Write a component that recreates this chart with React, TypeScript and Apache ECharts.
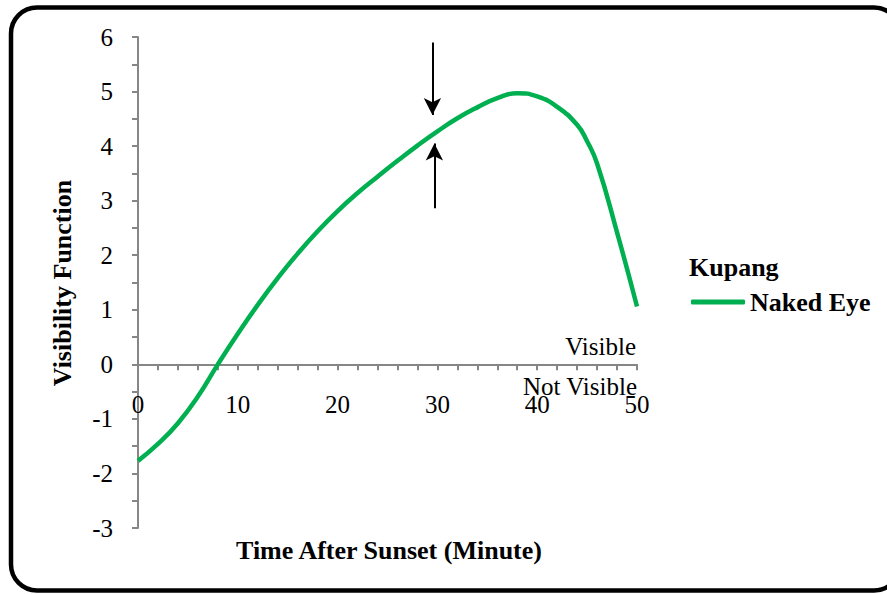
import React, { useEffect, useRef } from "react";
import * as echarts from "echarts";

// ---- data ----
const minutes = [0, 2, 4, 6, 8, 10, 12, 14, 16, 18, 20, 22, 24, 26, 28, 30, 32, 34, 36, 38, 40, 42, 44, 45, 46, 48, 50];
const visibility = [-1.77, -1.46, -1.08, -0.59, 0.0, 0.56, 1.09, 1.58, 2.03, 2.44, 2.81, 3.14, 3.44, 3.73, 4.01, 4.27, 4.51, 4.71, 4.88, 4.97, 4.91, 4.72, 4.39, 4.09, 3.68, 2.42, 1.06];
const seriesName = "Naked Eye";
const legendTitle = "Kupang";
const xTitle = "Time After Sunset (Minute)";
const yTitle = "Visibility Function";
const visibleLabel = "Visible";
const notVisibleLabel = "Not Visible";
const xRange = [0, 50, 10];
const yRange = [-3, 6, 1];
// annotation arrows (minute, from value, to value)
const downArrow = [29.5, 5.9, 4.57];
const upArrow = [29.7, 2.86, 4.05];

const FONT = "'Liberation Serif', 'Times New Roman', serif";
const AXIS_GRAY = "#868686";
const W = 887;
const H = 594;
const GRID = { left: 138, right: 250, top: 37, bottom: 66 };

export default function App() {
  const ref = useRef<HTMLDivElement>(null);

  useEffect(() => {
    document.body.style.margin = "0";
    if (!ref.current) return;
    const chart = echarts.init(ref.current, undefined, { renderer: "svg" });
    const tickStyle = { color: AXIS_GRAY, width: 2 };
    // place the x axis on the value 0 line
    const gridH = H - GRID.top - GRID.bottom;
    const zeroOffset = -(gridH * (0 - yRange[0])) / (yRange[1] - yRange[0]);
    chart.setOption({
      animation: false,
      backgroundColor: "#fff",
      textStyle: { fontFamily: FONT },
      grid: GRID,
      legend: {
        show: true,
        data: [seriesName],
        left: 691,
        top: 289,
        icon: "roundRect",
        itemWidth: 54,
        itemHeight: 5,
        padding: 0,
        textStyle: { fontFamily: FONT, fontSize: 26, fontWeight: "bold", color: "#000" },
      },
      xAxis: {
        type: "value",
        min: xRange[0],
        max: xRange[1],
        interval: xRange[2],
        offset: zeroOffset,
        axisLine: { onZero: false, lineStyle: { color: AXIS_GRAY, width: 2 } },
        axisTick: { show: true, length: 6, lineStyle: tickStyle },
        minorTick: { show: true, splitNumber: 5, length: 6, lineStyle: tickStyle },
        splitLine: { show: false },
        axisLabel: { margin: 28, fontSize: 25, color: "#000", fontFamily: FONT },
      },
      yAxis: {
        type: "value",
        min: yRange[0],
        max: yRange[1],
        interval: yRange[2],
        axisLine: { show: true, lineStyle: { color: AXIS_GRAY, width: 2 } },
        axisTick: { show: true, length: 6, lineStyle: tickStyle },
        minorTick: { show: true, splitNumber: 2, length: 6, lineStyle: tickStyle },
        splitLine: { show: false },
        minorSplitLine: { show: false },
        axisLabel: { margin: 25, fontSize: 25, color: "#000", fontFamily: FONT },
      },
      series: [
        {
          name: seriesName,
          type: "line",
          data: minutes.map((m, i) => [m, visibility[i]]),
          smooth: 0.5,
          symbol: "none",
          lineStyle: { color: "#00b050", width: 4.5 },
          itemStyle: { color: "#00b050" },
          markLine: {
            silent: true,
            symbol: ["none", "arrow"],
            symbolSize: [13, 17],
            label: { show: false },
            lineStyle: { color: "#000", width: 2, type: "solid" },
            data: [
              [{ coord: [downArrow[0], downArrow[1]] }, { coord: [downArrow[0], downArrow[2]] }],
              [{ coord: [upArrow[0], upArrow[1]] }, { coord: [upArrow[0], upArrow[2]] }],
            ],
          },
        },
      ],
      graphic: [
        {
          type: "rect",
          silent: true,
          z: -1,
          shape: { x: 11, y: 7.5, width: 889, height: 583, r: 26 },
          style: { fill: "none", stroke: "#000", lineWidth: 4.5 },
        },
        {
          type: "text",
          x: 62,
          y: 283,
          rotation: Math.PI / 2,
          style: { text: yTitle, font: `bold 26px ${FONT}`, fill: "#000", align: "center", verticalAlign: "middle" },
        },
        {
          type: "text",
          x: 389,
          y: 550,
          style: { text: xTitle, font: `bold 26px ${FONT}`, fill: "#000", align: "center", verticalAlign: "middle" },
        },
        {
          type: "text",
          x: 689,
          y: 267,
          style: { text: legendTitle, font: `bold 26px ${FONT}`, fill: "#000", align: "left", verticalAlign: "middle" },
        },
        {
          type: "text",
          x: 636,
          y: 346,
          style: { text: visibleLabel, font: `25px ${FONT}`, fill: "#000", align: "right", verticalAlign: "middle" },
        },
        {
          type: "text",
          x: 637,
          y: 386,
          style: { text: notVisibleLabel, font: `25px ${FONT}`, fill: "#000", align: "right", verticalAlign: "middle" },
        },
      ],
    });
    return () => chart.dispose();
  }, []);

  return <div ref={ref} style={{ width: W, height: H }} />;
}
